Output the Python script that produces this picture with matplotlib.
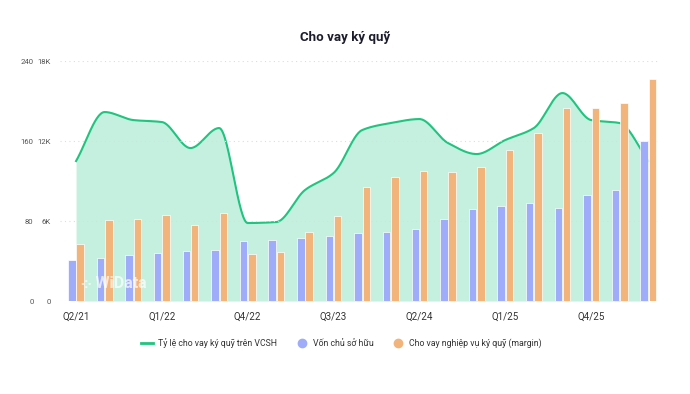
import numpy as np
import matplotlib.pyplot as plt
from matplotlib.lines import Line2D

plt.rcParams['font.family'] = ['Roboto', 'DejaVu Sans']

quarters = ['Q2/21', 'Q3/21', 'Q4/21', 'Q1/22', 'Q2/22', 'Q3/22', 'Q4/22', 'Q1/23', 'Q2/23', 'Q3/23',
            'Q4/23', 'Q1/24', 'Q2/24', 'Q3/24', 'Q4/24', 'Q1/25', 'Q2/25', 'Q3/25', 'Q4/25', 'Q1/26', 'Q2/26']
# von chu so huu (ty dong)
equity = [3050, 3250, 3430, 3630, 3730, 3830, 4500, 4600, 4700, 4850, 5080,
          5150, 5380, 6150, 6880, 7130, 7330, 6980, 7950, 8330, 11980]
# cho vay margin (ty dong)
margin = [4300, 6100, 6170, 6430, 5700, 6630, 3530, 3680, 5180, 6380, 8550,
          9280, 9780, 9680, 10080, 11330, 12630, 14480, 14480, 14850, 16650]
# ty le cho vay ky quy tren VCSH (%)
ratio = [140, 189, 181, 179, 153, 173, 78, 79, 111, 128, 171,
         178, 182, 158, 147, 161, 173, 208, 181, 178, 140]

tick_idx = [0, 3, 6, 9, 12, 15, 18]

c_line = '#1fc47f'
c_fill = '#c5f0df'
c_blue = '#9eacf9'
c_orange = '#f3b47c'
c_text = '#555555'


def smooth(xs, ys, n=30):
    # monotone cubic (Fritsch-Carlson), chi de ve duong cong muot
    xs = np.asarray(xs, float)
    ys = np.asarray(ys, float)
    h = np.diff(xs)
    d = np.diff(ys) / h
    m = np.zeros_like(ys)
    m[0], m[-1] = d[0], d[-1]
    for i in range(1, len(ys) - 1):
        if d[i - 1] * d[i] > 0:
            m[i] = 2 / (1 / d[i - 1] + 1 / d[i])
    xo, yo = [], []
    for i in range(len(xs) - 1):
        t = np.linspace(0, 1, n, endpoint=False)
        h00 = 2 * t**3 - 3 * t**2 + 1
        h10 = t**3 - 2 * t**2 + t
        h01 = -2 * t**3 + 3 * t**2
        h11 = t**3 - t**2
        xo.append(xs[i] + t * h[i])
        yo.append(h00 * ys[i] + h10 * h[i] * m[i] + h01 * ys[i + 1] + h11 * h[i] * m[i + 1])
    xo.append([xs[-1]])
    yo.append([ys[-1]])
    return np.concatenate(xo), np.concatenate(yo)


x = np.arange(len(quarters))
fig = plt.figure(figsize=(6.9, 3.94), dpi=100)
ax = fig.add_axes([0.087, 0.236, 0.87, 0.609])
ax2 = ax.twinx()

sx, sy = smooth(x, ratio)
ax.fill_between(sx, 0, sy, color=c_fill, lw=0, zorder=1)
ax.plot(sx, sy, color=c_line, lw=1.5, zorder=2)
ax.set_ylim(0, 240)
ax.set_yticks([0, 80, 160, 240])
ax.grid(axis='y', color='#dddddd', ls=(0, (1, 3)), lw=0.8)
ax.set_axisbelow(False)

w = 0.26
ax2.bar(x - 0.145, equity, width=w, color=c_blue, edgecolor='white', lw=0.5, zorder=3)
ax2.bar(x + 0.145, margin, width=w, color=c_orange, edgecolor='white', lw=0.5, zorder=3)
ax2.set_ylim(0, 18000)
ax2.set_yticks([0, 6000, 12000, 18000])
ax2.set_yticklabels(['0', '6K', '12K', '18K'])
ax2.yaxis.tick_left()

ax.set_xlim(-0.56, 20.42)
ax.set_xticks(tick_idx)
ax.set_xticklabels([quarters[i] for i in tick_idx])

for a in (ax, ax2):
    for s in a.spines.values():
        s.set_visible(False)
ax.tick_params(axis='y', length=0, pad=19, labelsize=5.6, colors=c_text)
ax2.tick_params(axis='y', length=0, pad=6.5, labelsize=5.6, colors=c_text)
ax.tick_params(axis='x', length=0, pad=8, labelsize=7, colors='#333333')

# watermark
ax2.text(0.035, 0.075, '⁘ WiData', transform=ax2.transAxes, fontsize=11.5, color='white',
         alpha=0.7, fontweight='bold', zorder=5, va='center')

fig.text(0.5, 0.905, 'Cho vay ký quỹ', ha='center', va='center', fontsize=9.6,
         fontweight='bold', color='#1c1c2c')

handles = [Line2D([], [], color=c_line, lw=2),
           Line2D([], [], ls='', marker='o', ms=6, color=c_blue),
           Line2D([], [], ls='', marker='o', ms=6, color=c_orange)]
labels = ['Tỷ lệ cho vay ký quỹ trên VCSH', 'Vốn chủ sở hữu', 'Cho vay nghiệp vụ ký quỹ (margin)']
fig.legend(handles, labels, loc='center', bbox_to_anchor=(0.495, 0.129), ncol=3, frameon=False,
           fontsize=6.3, handlelength=1.3, columnspacing=2.2, handletextpad=0.6,
           labelcolor='#333333')

fig.savefig('out.png', dpi=100)
